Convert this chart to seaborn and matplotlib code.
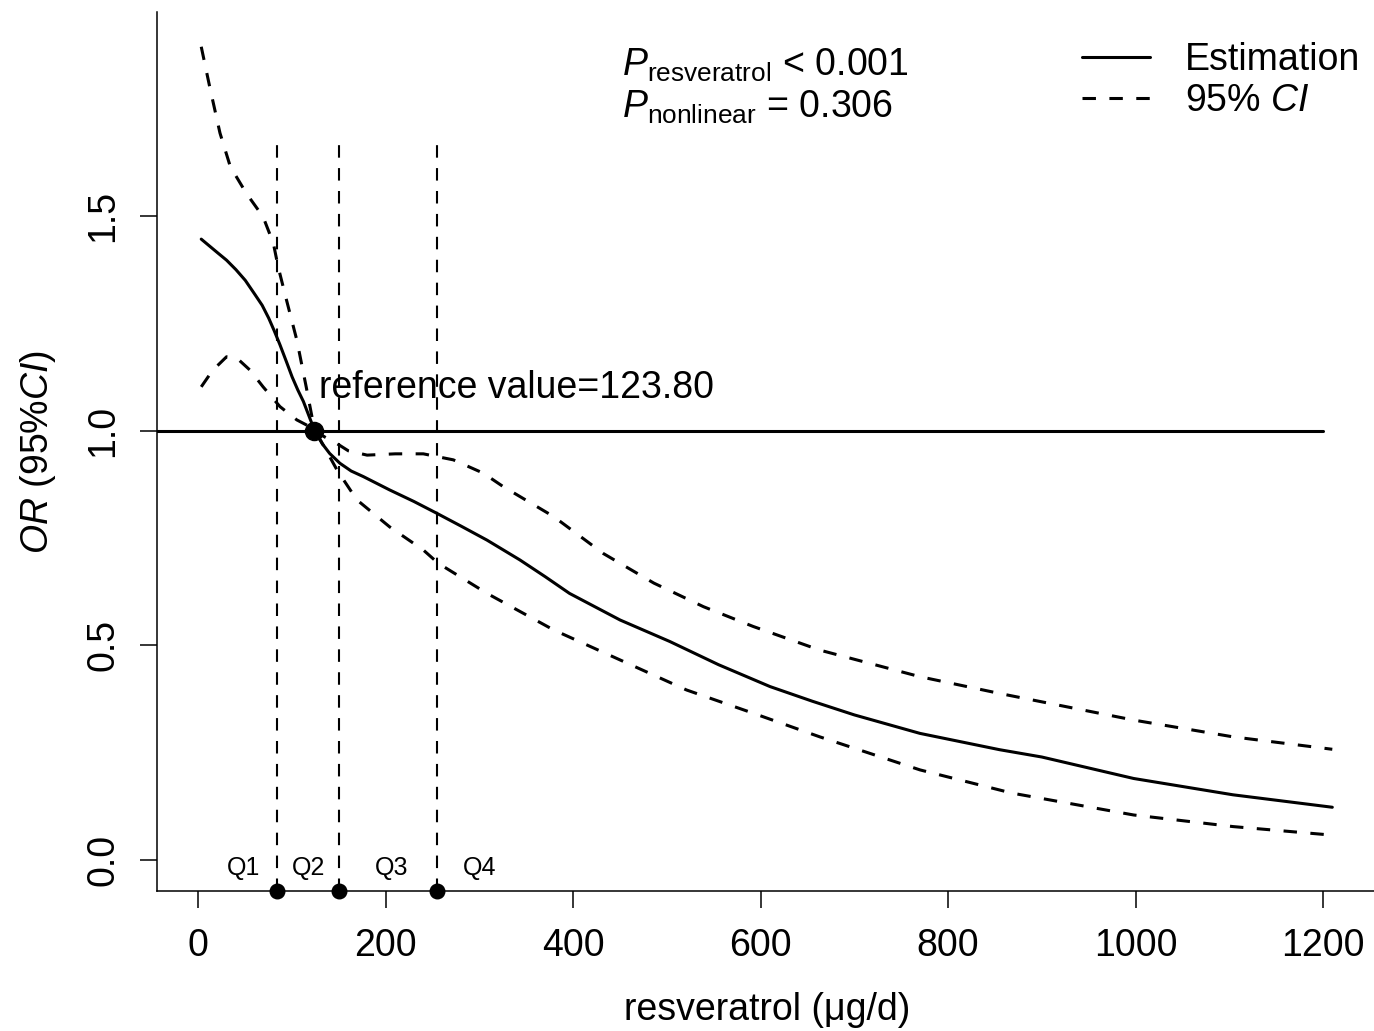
import matplotlib
matplotlib.use('Agg')
import matplotlib.pyplot as plt
import pandas as pd
import seaborn as sns

# Values
est_x = [3, 20, 30, 40, 50, 60, 68, 75, 81, 87, 94, 100, 106, 112, 118, 124, 132, 140,
         151, 163, 176, 204, 230, 254, 280, 308, 343, 370, 396, 450, 503, 555, 610, 655,
         700, 770, 855, 900, 998, 1104, 1210]
est_y = [1.446, 1.415, 1.397, 1.375, 1.350, 1.318, 1.292, 1.262, 1.232, 1.200, 1.160,
         1.125, 1.095, 1.068, 1.034, 1.000, 0.970, 0.947, 0.924, 0.906, 0.893, 0.862,
         0.835, 0.808, 0.778, 0.745, 0.699, 0.660, 0.621, 0.559, 0.509, 0.455, 0.404,
         0.370, 0.338, 0.295, 0.257, 0.240, 0.190, 0.152, 0.123]

upper_x = [3, 12, 23, 34, 51, 69, 80, 85, 94, 105, 115, 124, 135, 147, 160, 180, 210,
           240, 272, 304, 325, 379, 432, 486, 539, 592, 663, 770, 855, 998, 1104, 1210]
upper_y = [1.894, 1.801, 1.693, 1.615, 1.553, 1.498, 1.436, 1.382, 1.304, 1.211, 1.102,
           1.000, 0.985, 0.971, 0.953, 0.943, 0.946, 0.946, 0.932, 0.901, 0.870, 0.800,
           0.714, 0.645, 0.590, 0.544, 0.489, 0.427, 0.388, 0.326, 0.287, 0.258]

lower_x = [3, 15, 30, 41, 55, 69, 87, 105, 119, 124, 131, 148, 169, 204, 240, 256, 308,
           379, 450, 521, 592, 663, 770, 868, 998, 1104, 1210]
lower_y = [1.102, 1.140, 1.172, 1.169, 1.141, 1.102, 1.056, 1.025, 1.009, 1.000, 0.975,
           0.908, 0.839, 0.776, 0.722, 0.691, 0.621, 0.536, 0.466, 0.396, 0.342, 0.287,
           0.210, 0.156, 0.105, 0.078, 0.058]

quantile_cuts = [83.8, 149.6, 254.9]
quantile_labels = ['Q1', 'Q2', 'Q3', 'Q4']
quantile_label_x = [47.8, 117.9, 206.3, 299.6]
ref_value = 123.8

est = pd.DataFrame({'x': est_x, 'y': est_y})
upper = pd.DataFrame({'x': upper_x, 'y': upper_y})
lower = pd.DataFrame({'x': lower_x, 'y': lower_y})

sns.set_style('ticks')
plt.rcParams['font.family'] = ['Liberation Sans', 'DejaVu Sans']
plt.rcParams['mathtext.fontset'] = 'custom'
plt.rcParams['mathtext.rm'] = 'Liberation Sans'
plt.rcParams['mathtext.it'] = 'Liberation Sans:italic'
plt.rcParams['text.color'] = 'black'
plt.rcParams['xtick.color'] = 'black'
plt.rcParams['ytick.color'] = 'black'
plt.rcParams['axes.labelcolor'] = 'black'

fig = plt.figure(figsize=(13.74, 10.31), dpi=100)
ax = fig.add_axes([0.1140, 0.1358, 0.8860, 0.8526])
xmin, xmax = -44.6, 1254.5
ymin, ymax = -0.072, 1.975

lw = 2.2
dash = (0, (4.4, 4.4))

sns.lineplot(data=est, x='x', y='y', ax=ax, color='black', linewidth=lw,
             estimator=None, sort=False, label='Estimation')
sns.lineplot(data=upper, x='x', y='y', ax=ax, color='black', linewidth=lw,
             linestyle=dash, estimator=None, sort=False, label='95% $\\mathit{CI}$')
sns.lineplot(data=lower, x='x', y='y', ax=ax, color='black', linewidth=lw,
             linestyle=dash, estimator=None, sort=False)

# reference line and quantile cut lines
ax.plot([xmin, 1200], [1, 1], color='black', linewidth=lw)
for q in quantile_cuts:
    ax.plot([q, q], [ymin, 1.685], color='black', linewidth=1.5,
            linestyle=(0, (6, 5)))
ax.scatter(quantile_cuts, [ymin] * len(quantile_cuts), s=110, color='black',
           zorder=5, clip_on=False)
ax.scatter([ref_value], [1.0], s=170, color='black', zorder=5)

for lx, lab in zip(quantile_label_x, quantile_labels):
    ax.text(lx, -0.019, lab, fontsize=18, ha='center', va='center')

ax.text(129, 1.1, 'reference value=123.80', fontsize=27, ha='left', va='center')
ax.text(452, 1.850, r'$P_{\mathrm{resveratrol}}$ < 0.001', fontsize=27,
        ha='left', va='center')
ax.text(452, 1.752, r'$P_{\mathrm{nonlinear}}$ = 0.306', fontsize=27,
        ha='left', va='center')

ax.set_xlim(xmin, xmax)
ax.set_ylim(ymin, ymax)
ax.set_xticks([0, 200, 400, 600, 800, 1000, 1200])
ax.set_yticks([0.0, 0.5, 1.0, 1.5])
ax.set_yticklabels(['0.0', '0.5', '1.0', '1.5'], rotation=90, va='center')
ax.tick_params(axis='both', direction='out', length=12.5, width=1.1,
               labelsize=27, color='black', labelcolor='black')
ax.tick_params(axis='x', pad=14)
ax.tick_params(axis='y', pad=13)
ax.set_xlabel('')
ax.set_ylabel('')
sns.despine(ax=ax)
for s in ['left', 'bottom']:
    ax.spines[s].set_linewidth(1.1)
    ax.spines[s].set_color('black')

leg = ax.legend(loc='upper left', bbox_to_anchor=(1082 / 1374, 1 - 42 / 1031),
                bbox_transform=fig.transFigure, frameon=False, fontsize=27,
                handlelength=1.81, handletextpad=0.93, labelspacing=0.13,
                borderpad=0, borderaxespad=0)
for t in leg.get_texts():
    t.set_color('black')

fig.text(767 / 1374, 1 - 1010 / 1031, 'resveratrol (μg/d)', fontsize=27,
         ha='center', va='center')
fig.text(38 / 1374, 1 - 452 / 1031, r'$\mathit{OR}$ (95%$\mathit{CI}$)',
         fontsize=27, ha='center', va='center', rotation=90)

fig.savefig('out.png', dpi=100)
